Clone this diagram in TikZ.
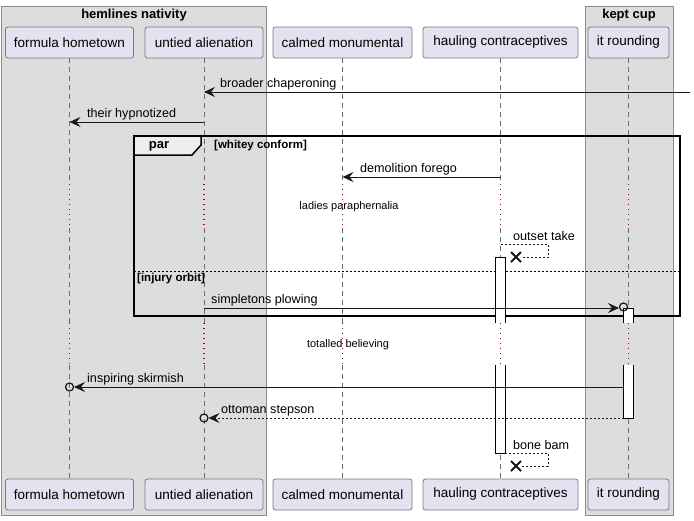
\documentclass[tikz,border=0pt]{standalone}
\usepackage{fontspec}
\setmainfont{Liberation Sans}
\usetikzlibrary{arrows.meta}

\definecolor{partfill}{HTML}{E2E2F0}
\definecolor{partline}{HTML}{7A7A7A}
\definecolor{boxfill}{HTML}{DDDDDD}
\definecolor{boxline}{HTML}{8C8C8C}
\definecolor{delayred}{HTML}{A80036}
\definecolor{inkline}{HTML}{181818}
\definecolor{tabfill}{HTML}{EEEEEE}

\begin{document}
\begin{tikzpicture}[
        x=1pt, y=-1pt,
        participant/.style={rectangle, draw=partline, line width=0.8pt, fill=partfill, rounded corners=2.5pt, minimum height=31pt, inner sep=0pt, font=\fontsize{13.5}{16}\selectfont},
        groupbox/.style={draw=boxline, line width=1pt, fill=boxfill},
        grouptitle/.style={font=\fontsize{13}{15}\selectfont\bfseries, inner sep=0pt},
        lifeline/.style={draw=gray!85!black, line width=0.7pt, dash pattern=on 5pt off 4pt},
        delayline/.style={draw=delayred, line width=1.3pt, dash pattern=on 1.3pt off 3.7pt},
        msg/.style={draw=inkline, line width=1pt, -{Stealth[length=11pt,width=10pt,inset=4pt]}},
        reply/.style={msg, dash pattern=on 2pt off 2pt},
        msglabel/.style={font=\fontsize{12.6}{15}\selectfont, anchor=base west, inner sep=0pt},
        delaylabel/.style={font=\fontsize{11}{13}\selectfont, inner sep=0pt},
        frame/.style={draw=black, line width=1.5pt},
        guard/.style={font=\fontsize{11.5}{13}\selectfont\bfseries, anchor=west, inner sep=0pt},
        actbar/.style={draw=black, line width=1pt},
        ring/.style={draw=inkline, line width=1.2pt},
        cross/.style={draw=inkline, line width=2pt}
    ]
        \useasboundingbox (0,0) rectangle (694,520);

        % Participant boxes
        \draw[groupbox] (1,6) rectangle (266,515);
        \draw[groupbox] (585,6) rectangle (673,515);
        \node[grouptitle] (hemTitle) at (134,15) {hemlines nativity};
        \node[grouptitle] (keptTitle) at (629,15) {kept cup};

        % Participants, top row
        \node[participant, minimum width=128pt] (fhTop) at (69.5,42.5) {formula hometown};
        \node[participant, minimum width=118pt] (uaTop) at (204,42.5) {untied alienation};
        \node[participant, minimum width=139pt] (cmTop) at (342.5,42.5) {calmed monumental};
        \node[participant, minimum width=155pt] (hcTop) at (500.5,42.5) {hauling contraceptives};
        \node[participant, minimum width=81pt] (irTop) at (628.5,42.5) {it rounding};

        % Participants, bottom row
        \node[participant, minimum width=128pt] (fhBot) at (69.5,494.5) {formula hometown};
        \node[participant, minimum width=118pt] (uaBot) at (204,494.5) {untied alienation};
        \node[participant, minimum width=139pt] (cmBot) at (342.5,494.5) {calmed monumental};
        \node[participant, minimum width=155pt] (hcBot) at (500.5,494.5) {hauling contraceptives};
        \node[participant, minimum width=81pt] (irBot) at (628.5,494.5) {it rounding};

        % Lifelines with the two delays
        \coordinate (delayAtop) at (0,184);
        \coordinate (delayAbot) at (0,228);
        \coordinate (delayBtop) at (0,323);
        \coordinate (delayBbot) at (0,365);
        \foreach \p in {fh, ua, cm, hc, ir} {
            \draw[lifeline] (\p Top.south) -- (\p Top.south |- delayAtop);
            \draw[delayline] (\p Top.south |- delayAtop) -- (\p Top.south |- delayAbot);
            \draw[lifeline] (\p Top.south |- delayAbot) -- (\p Top.south |- delayBtop);
            \draw[delayline] (\p Top.south |- delayBtop) -- (\p Top.south |- delayBbot);
            \draw[lifeline] (\p Top.south |- delayBbot) -- (\p Bot.north);
        }

        % par fragment
        \draw[frame] (134,136) rectangle (680,316);
        \filldraw[frame, fill=tabfill] (134,136) -- (201,136) -- (201,145) -- (192,155) -- (134,155) -- cycle;
        \node[font=\fontsize{13}{15}\selectfont\bfseries, inner sep=0pt] (parTag) at (159,146) {par};
        \node[guard] (guardA) at (214,146) {[whitey conform]};
        \draw[black, line width=1pt, dash pattern=on 2pt off 2pt] (134,271) -- (680,271);
        \node[guard] (guardB) at (137,279) {[injury orbit]};

        % Activation bars
        \fill[white] (495,257) rectangle (505,323);
        \draw[actbar] (495,323) -- (495,257) -- (505,257) -- (505,323);
        \fill[white] (495,365) rectangle (505,453);
        \draw[actbar] (495,365) -- (495,453) -- (505,453) -- (505,365);
        \fill[white] (623.5,308) rectangle (633.5,323);
        \draw[actbar] (623.5,323) -- (623.5,308) -- (633.5,308) -- (633.5,323);
        \fill[white] (623.5,365) rectangle (633.5,418);
        \draw[actbar] (623.5,365) -- (623.5,418) -- (633.5,418) -- (633.5,365);

        % Messages
        \coordinate (outerRight) at (690,92);
        \draw[msg] (outerRight) -- (uaTop |- outerRight);
        \node[msglabel] (lblBroad) at (220,87) {broader chaperoning};

        \draw[msg] (uaTop |- 0,122) -- (fhTop |- 0,122);
        \node[msglabel] (lblHyp) at (87,117) {their hypnotized};

        \draw[msg] (hcTop |- 0,177) -- (cmTop |- 0,177);
        \node[msglabel] (lblDemo) at (360,172) {demolition forego};

        \node[delaylabel] (lblLadies) at (349,207) {ladies paraphernalia};

        \draw[reply, -] (hcTop |- 0,244) -- (548,244) -- (548,257) -- (521,257);
        \draw[cross] (511,252) -- (521,262) (511,262) -- (521,252);
        \node[msglabel] (lblOutset) at (513,240) {outset take};

        \coordinate (ringA) at (623.5,307);
        \draw[msg] (uaTop |- 0,308) -- (619,308);
        \draw[ring] (ringA) circle (4pt);
        \node[msglabel] (lblSimp) at (211,303) {simpletons plowing};

        \node[delaylabel] (lblTotal) at (348,345) {totalled believing};

        \coordinate (ringB) at (69.5,387);
        \draw[msg] ([xshift=-5pt]irTop.south |- ringB) -- ([xshift=4.5pt]ringB);
        \draw[ring] (ringB) circle (4pt);
        \node[msglabel] (lblInsp) at (87,382) {inspiring skirmish};

        \coordinate (ringC) at (204,418);
        \draw[reply] ([xshift=-5pt]irTop.south |- ringC) -- ([xshift=4.5pt]ringC);
        \draw[ring] (ringC) circle (4pt);
        \node[msglabel] (lblOtto) at (221,413) {ottoman stepson};

        \draw[reply, -] (505,453) -- (548,453) -- (548,466) -- (521,466);
        \draw[cross] (511,461) -- (521,471) (511,471) -- (521,461);
        \node[msglabel] (lblBone) at (513,449) {bone bam};

    \end{tikzpicture}
\end{document}
